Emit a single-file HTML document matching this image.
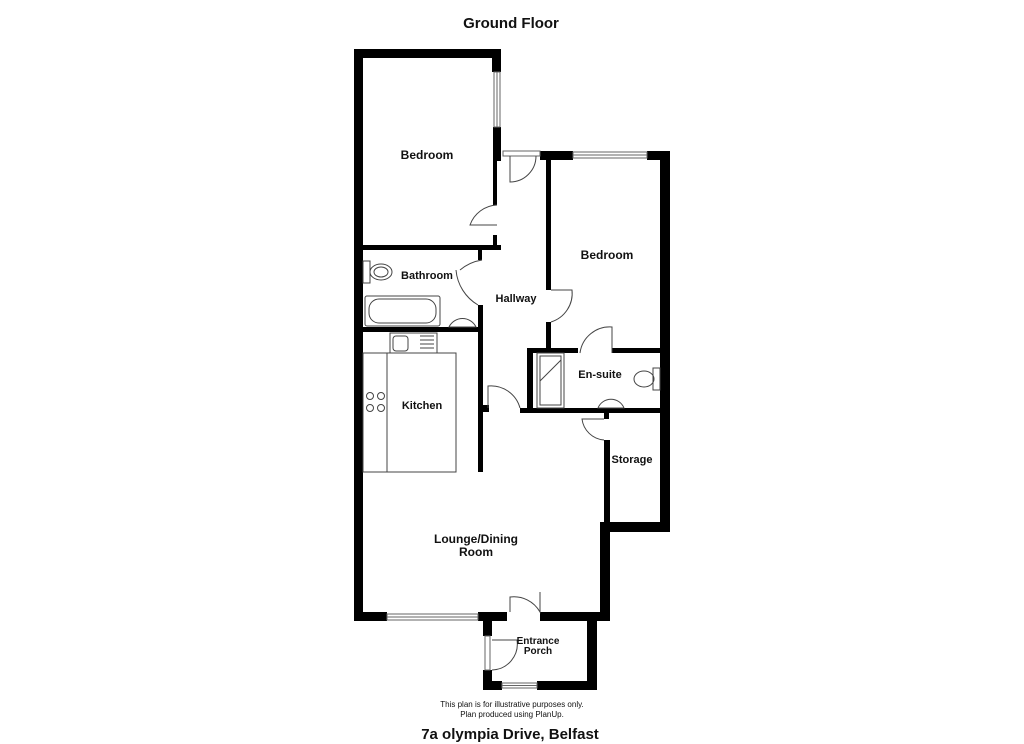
<!DOCTYPE html>
<html><head><meta charset="utf-8"><style>
body{margin:0;background:#fff}
svg{display:block}
text{font-family:"Liberation Sans",Arial,sans-serif;font-weight:bold;fill:#111}
</style></head><body>
<svg width="1024" height="744" viewBox="0 0 1024 744">
<text x="511" y="28" font-size="15" text-anchor="middle">Ground Floor</text>
<g fill="#000">
<!-- outer left + top bedroom -->
<rect x="354" y="49" width="9" height="572"/>
<rect x="354" y="49" width="147" height="9"/>
<rect x="492" y="49" width="9" height="23"/>
<rect x="493" y="127" width="8" height="34"/>
<rect x="493" y="160" width="4" height="45"/>
<rect x="493" y="235" width="4" height="15"/>
<rect x="363" y="245" width="138" height="5"/>
<!-- hall top -->
<rect x="540" y="151" width="33" height="9"/>
<rect x="647" y="151" width="23" height="9"/>
<rect x="660" y="151" width="10" height="381"/>
<!-- bedroom2 left wall -->
<rect x="546" y="160" width="5" height="130"/>
<rect x="546" y="322" width="5" height="28"/>
<!-- bathroom -->
<rect x="478" y="250" width="4" height="10"/>
<rect x="478" y="305" width="5" height="105"/>
<rect x="363" y="327" width="120" height="5"/>
<rect x="478" y="410" width="5" height="62"/>
<rect x="483" y="405" width="6" height="7"/>
<!-- en-suite -->
<rect x="527" y="348" width="6" height="65"/>
<rect x="527" y="348" width="51" height="5"/>
<rect x="612" y="348" width="48" height="5"/>
<rect x="520" y="408" width="140" height="5"/>
<!-- storage -->
<rect x="604" y="413" width="5" height="6"/>
<rect x="604" y="440" width="6" height="92"/>
<rect x="604" y="522" width="66" height="10"/>
<rect x="600" y="522" width="10" height="99"/>
<!-- bottom -->
<rect x="354" y="612" width="33" height="9"/>
<rect x="478" y="612" width="29" height="9"/>
<rect x="540" y="612" width="70" height="9"/>
<!-- porch -->
<rect x="483" y="612" width="9" height="24"/>
<rect x="483" y="670" width="9" height="20"/>
<rect x="483" y="681" width="19" height="9"/>
<rect x="537" y="681" width="60" height="9"/>
<rect x="587" y="612" width="10" height="78"/>
</g>
<g fill="#fff" stroke="#666" stroke-width="1">
<!-- windows -->
<rect x="494" y="72" width="6" height="55"/><line x1="497" y1="72" x2="497" y2="127"/>
<rect x="573" y="152" width="74" height="6"/><line x1="573" y1="155" x2="647" y2="155"/>
<rect x="387" y="614" width="91" height="6"/><line x1="387" y1="617" x2="478" y2="617"/>
<rect x="485" y="636" width="5" height="34"/>
<rect x="502" y="683" width="35" height="5"/><line x1="502" y1="685.5" x2="537" y2="685.5"/>
<!-- door stubs -->
<rect x="503" y="151" width="37" height="5"/>
</g>
<g fill="none" stroke="#444" stroke-width="1">
<!-- doors -->
<path d="M510 156 V182 A26 26 0 0 0 536 156"/>
<path d="M497 205 A30 30 0 0 0 470 225 H497"/>
<path d="M482 260 A45 45 0 0 0 460 270 M456 270 A45 45 0 0 0 478 305"/>
<path d="M551 290 H572 A30 30 0 0 1 551 322"/>
<path d="M612 353 V327 A30 30 0 0 0 580 353"/>
<path d="M488 408 V386 A30 30 0 0 1 520 408"/>
<path d="M604 419 H582 A24 24 0 0 0 604 440"/>
<path d="M510 612 V597 A30 30 0 0 1 540 612 V592"/>
<path d="M492 640 H517 A26 26 0 0 1 492 670"/>
<!-- bathroom fittings -->
<rect x="363" y="261" width="7" height="22"/>
<ellipse cx="381" cy="272" rx="11" ry="8"/>
<ellipse cx="381" cy="272" rx="7" ry="5"/>
<rect x="365" y="296" width="75" height="30" rx="2"/>
<rect x="369" y="299" width="67" height="24" rx="10"/>
<path d="M449 327 A15 15 0 0 1 476 327 Z"/>
<!-- kitchen -->
<rect x="390" y="333" width="47" height="20"/>
<rect x="393" y="336" width="15" height="15" rx="3"/>
<path d="M420 336 h14 M420 340 h14 M420 344 h14 M420 348 h14"/>
<rect x="387" y="353" width="69" height="119"/>
<rect x="363" y="353" width="24" height="119"/>
<circle cx="370" cy="396" r="3.5"/><circle cx="381" cy="396" r="3.5"/>
<circle cx="370" cy="408" r="3.5"/><circle cx="381" cy="408" r="3.5"/>
<!-- en-suite fittings -->
<rect x="537" y="353" width="27" height="55"/>
<rect x="540" y="356" width="21" height="49"/>
<path d="M540 381 L561 360"/>
<rect x="653" y="368" width="7" height="22"/>
<ellipse cx="644" cy="379" rx="10" ry="8"/>
<path d="M598 408 A14 14 0 0 1 624 408 Z"/>
</g>
<g font-size="12" text-anchor="middle">
<text x="427" y="159">Bedroom</text>
<text x="607" y="259">Bedroom</text>
<text x="427" y="279" font-size="11">Bathroom</text>
<text x="516" y="302" font-size="11">Hallway</text>
<text x="600" y="378" font-size="11">En-suite</text>
<text x="422" y="409" font-size="11">Kitchen</text>
<text x="632" y="463" font-size="11">Storage</text>
<text x="476" y="543">Lounge/Dining</text>
<text x="476" y="556">Room</text>
<text x="538" y="644" font-size="10">Entrance</text>
<text x="538" y="654" font-size="10">Porch</text>
</g>
<text x="512" y="707" font-size="8" font-weight="normal" text-anchor="middle" style="font-weight:normal">This plan is for illustrative purposes only.</text>
<text x="512" y="717" font-size="8" text-anchor="middle" style="font-weight:normal">Plan produced using PlanUp.</text>
<text x="510" y="739" font-size="15" text-anchor="middle">7a olympia Drive, Belfast</text>
</svg>
</body></html>
